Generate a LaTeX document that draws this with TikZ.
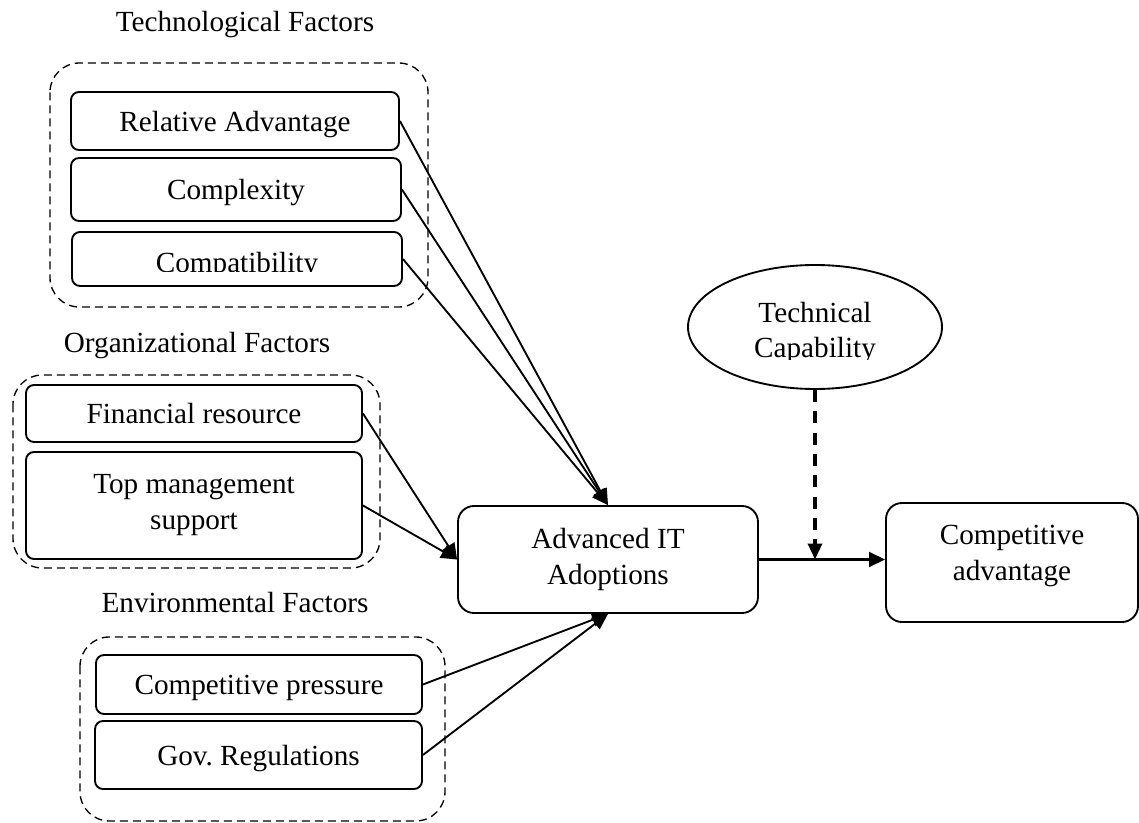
\documentclass[tikz,border=0pt]{standalone}
\usepackage{fontspec}
\setmainfont{Liberation Serif}
\usetikzlibrary{arrows.meta,shapes.geometric}
\begin{document}
\begin{tikzpicture}[x=0.75pt,y=-0.75pt,
  every node/.style={font=\fontsize{21.9pt}{27pt}\selectfont, inner sep=0pt, align=center},
  factorbox/.style={draw, line width=1.4pt, rounded corners=6pt},
  factor/.style={factorbox, text depth=0pt},
  bigbox/.style={draw, line width=1.4pt, rounded corners=12pt},
  moderator/.style={draw, ellipse, line width=1.4pt},
  groupframe/.style={draw, line width=1pt, dash pattern=on 6pt off 3.75pt, rounded corners=22pt},
  heading/.style={anchor=base},
  link/.style={line width=1.4pt, -{Triangle[length=12pt,width=10.5pt]}},
  mainlink/.style={line width=2.2pt, -{Triangle[length=12pt,width=11pt]}},
  modlink/.style={line width=2.5pt, dash pattern=on 9pt off 7pt, -{Triangle[length=12pt,width=10.5pt]}}]

\useasboundingbox (0,0) rectangle (1139,823);

% group headings
\node[heading] (techhead) at (245,32) {Technological Factors};
\node[heading] (orghead) at (197,353) {Organizational Factors};
\node[heading] (envhead) at (235,612) {Environmental Factors};

% dashed group frames
\draw[groupframe] (50,63) rectangle (428,307);
\draw[groupframe] (13,375) rectangle (380,568);
\draw[groupframe] (80,637) rectangle (445,821);

% technological factors
\node[factor, minimum width=246pt, minimum height=43.5pt] (reladv) at (235,121) {Relative Advantage};
\node[factor, minimum width=247.5pt, minimum height=47.25pt] (complexity) at (236,189.5) {Complexity};
\node[factor, minimum width=247.5pt, minimum height=40.5pt] (compat) at (237,259) {};
\begin{scope}
  \clip (60,230) rectangle (420,271.5);
  \node[heading] (compattext) at (237,273) {Compatibility};
\end{scope}

% organizational factors
\node[factor, minimum width=252pt, minimum height=42.75pt] (fin) at (194,413.5) {Financial resource};
\node[factorbox, minimum width=252pt, minimum height=80.25pt] (topmgmt) at (194,505.5) {Top management\\support};

% environmental factors
\node[factor, minimum width=244.5pt, minimum height=44.25pt] (comppress) at (259,684.5) {Competitive pressure};
\node[factor, minimum width=245.25pt, minimum height=51pt] (gov) at (258.5,755) {Gov.\ Regulations};

% central constructs
\node[bigbox, minimum width=225pt, minimum height=80.25pt] (advit) at (608,559.5) {Advanced IT\\Adoptions};
\node[bigbox, minimum width=189pt, minimum height=89.25pt] (compadv) at (1012,562.5) {};
\node (compadvtext) at (1012,556) {Competitive\\advantage};

% moderator
\node[moderator, minimum width=190.5pt, minimum height=93pt] (techcap) at (815,327) {};
\begin{scope}
  \clip (700,280) rectangle (930,359.5);
  \node[heading] (techcaptext1) at (815,323) {Technical};
  \node[heading] (techcaptext2) at (815,358) {Capability};
\end{scope}

% connectors
\draw[link] (reladv.east) -- (advit.north);
\draw[link] (complexity.east) -- (advit.north);
\draw[link] (compat.east) -- (advit.north);
\draw[link] (fin.east) -- (advit.west);
\draw[link] (topmgmt.east) -- (advit.west);
\draw[link] (comppress.east) -- (advit.south);
\draw[link] (gov.east) -- (advit.south);

\coordinate (outcomeend) at (advit.east -| compadv.west);
\draw[mainlink] (advit.east) -- (outcomeend);
\coordinate (modpoint) at (techcap.south |- advit.east);
\draw[modlink] (techcap.south) -- (modpoint);

\end{tikzpicture}
\end{document}
